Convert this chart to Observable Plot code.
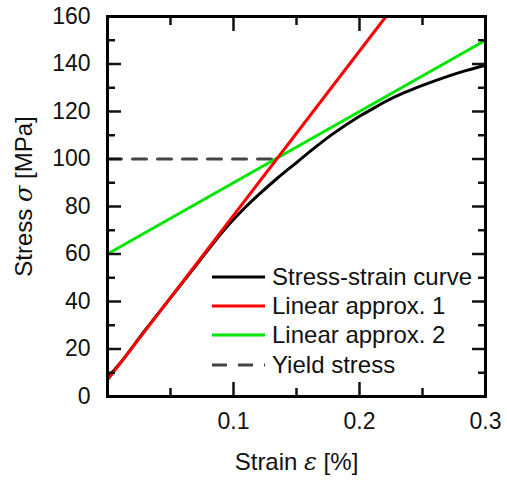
<!DOCTYPE html>
<html><head><meta charset="utf-8">
<script src="https://cdn.jsdelivr.net/npm/d3@7"></script>
<script src="https://cdn.jsdelivr.net/npm/@observablehq/plot@0.6"></script>
<style>
body{margin:0;background:#fff;}
#wrap{position:relative;width:507px;height:480px;font-family:"Liberation Sans",Arial,sans-serif;color:#111;}
#legend{position:absolute;left:210px;top:262px;font-size:24px;}
.row{display:flex;align-items:center;height:29.3px;white-space:nowrap;}
.row svg{width:56px;height:10px;margin-right:6px;display:block;}
</style></head><body><div id="wrap"></div>
<script>
// Stress-strain curve (strain %, stress MPa)
const strain = [0, 0.01, 0.03, 0.05, 0.07, 0.09, 0.10, 0.11, 0.12, 0.135, 0.15, 0.165, 0.18, 0.20, 0.21, 0.22, 0.235, 0.25, 0.27, 0.285, 0.30];
const stress = [8, 14, 28, 41.5, 55, 68.5, 74.5, 80, 85, 92, 98.5, 105, 111, 118, 121, 124, 127.8, 131, 134.8, 137.3, 139.5];
// Linear approximation 1 (end points)
const approx1Strain = [0, 0.221];
const approx1Stress = [7, 160];
// Linear approximation 2 (end points)
const approx2Strain = [0, 0.3];
const approx2Stress = [60, 150];
// Yield stress
const yieldStrain = [0, 0.135];
const yieldStress = [100, 100];
// Ticks
const xMajor = [0.1, 0.2, 0.3];
const xMinor = [0.05, 0.15, 0.25];
const yMajor = [0, 20, 40, 60, 80, 100, 120, 140, 160];
const yMinor = [10, 30, 50, 70, 90, 110, 130, 150];

const names = ["Stress-strain curve", "Linear approx. 1", "Linear approx. 2", "Yield stress"];
const colors = ["#000000", "#ff0000", "#00e600", "#444444"];

const pts = (xs, ys) => xs.map((x, i) => ({x, y: ys[i]}));
const curve = pts(strain, stress);
const a1 = pts(approx1Strain, approx1Stress);
const a2 = pts(approx2Strain, approx2Stress);
const yl = pts(yieldStrain, yieldStress);

const tickW = 2.5;
const chart = Plot.plot({
  width: 507, height: 480,
  marginLeft: 107, marginRight: 22, marginTop: 16, marginBottom: 84,
  style: {fontFamily: '"Liberation Sans", Arial, sans-serif', fontSize: "24px", color: "#111", background: "#fff"},
  x: {domain: [0, 0.3]},
  y: {domain: [0, 160]},
  marks: [
    Plot.line(yl, {x: "x", y: "y", stroke: colors[3], strokeWidth: 3, strokeDasharray: "14,11"}),
    Plot.line(curve, {x: "x", y: "y", stroke: colors[0], strokeWidth: 3, curve: "catmull-rom"}),
    Plot.line(a2, {x: "x", y: "y", stroke: colors[2], strokeWidth: 3}),
    Plot.line(a1, {x: "x", y: "y", stroke: colors[1], strokeWidth: 3}),
    // inward ticks
    Plot.axisX(xMajor, {anchor: "bottom", tickSize: -14, fill: "none", strokeWidth: tickW, label: null}),
    Plot.axisX(xMinor, {anchor: "bottom", tickSize: -8, fill: "none", strokeWidth: tickW, label: null}),
    Plot.axisX(xMajor, {anchor: "top", tickSize: -14, fill: "none", strokeWidth: tickW, label: null}),
    Plot.axisX(xMinor, {anchor: "top", tickSize: -8, fill: "none", strokeWidth: tickW, label: null}),
    Plot.axisY(yMajor, {anchor: "left", tickSize: -14, fill: "none", strokeWidth: tickW, label: null}),
    Plot.axisY(yMinor, {anchor: "left", tickSize: -8, fill: "none", strokeWidth: tickW, label: null}),
    Plot.axisY(yMajor, {anchor: "right", tickSize: -14, fill: "none", strokeWidth: tickW, label: null}),
    Plot.axisY(yMinor, {anchor: "right", tickSize: -8, fill: "none", strokeWidth: tickW, label: null}),
    // tick labels
    Plot.axisX(xMajor, {anchor: "bottom", tickSize: 0, tickPadding: 16, label: null, fontSize: 23, tickFormat: d => String(d)}),
    Plot.axisY(yMajor, {anchor: "left", tickSize: 0, tickPadding: 17, label: null, fontSize: 23}),
    Plot.frame({stroke: "#000", strokeWidth: 3}),
    // axis titles
    Plot.text(["Strain ε [%]"], {frameAnchor: "bottom", lineAnchor: "top", dy: 56, fill: "#111"}),
    Plot.text(["Stress σ [MPa]"], {frameAnchor: "left", textAnchor: "middle", rotate: -90, dx: -83, dy: -10, fill: "#111"})
  ]
});

// italic Greek symbols in axis titles
d3.select(chart).selectAll("text").each(function() {
  const t = this.textContent;
  if (t === "Strain ε [%]") this.innerHTML = 'Strain <tspan font-style="italic" font-family="DejaVu Serif, serif">ε</tspan> [%]';
  if (t === "Stress σ [MPa]") this.innerHTML = 'Stress <tspan font-style="italic" font-family="DejaVu Serif, serif">σ</tspan> [MPa]';
});

const wrap = document.getElementById("wrap");
wrap.appendChild(chart);

const legend = document.createElement("div");
legend.id = "legend";
names.forEach((n, i) => {
  const row = document.createElement("div");
  row.className = "row";
  const dash = i === 3 ? ' stroke-dasharray="15,11"' : '';
  row.innerHTML = `<svg viewBox="0 0 56 10"><line x1="2" y1="5" x2="55" y2="5" stroke="${colors[i]}" stroke-width="3"${dash}/></svg><span>${n}</span>`;
  legend.appendChild(row);
});
wrap.appendChild(legend);
</script>
</body></html>
